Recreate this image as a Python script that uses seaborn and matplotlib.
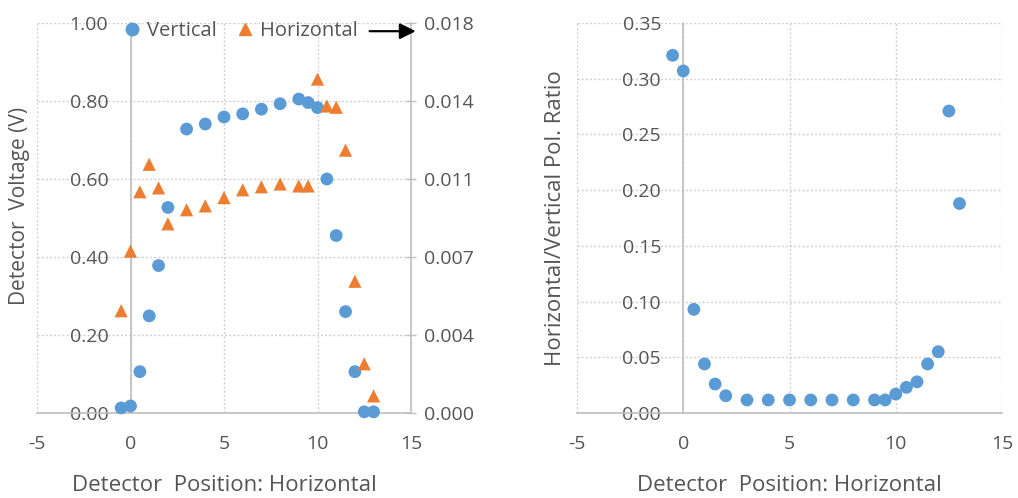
import numpy as np
import pandas as pd
import matplotlib
matplotlib.use("Agg")
import matplotlib.pyplot as plt
from matplotlib.lines import Line2D
import seaborn as sns

# Detector positions (horizontal scan)
position = [-0.5, 0, 0.5, 1, 1.5, 2, 3, 4, 5, 6, 7, 8, 9, 9.5, 10, 10.5, 11, 11.5, 12, 12.5, 13]

# Detector voltage, vertical polarisation (V, primary axis)
vertical_v = [0.013, 0.018, 0.106, 0.249, 0.378, 0.527, 0.728, 0.741, 0.759, 0.767, 0.779,
              0.793, 0.805, 0.796, 0.783, 0.600, 0.455, 0.260, 0.106, 0.003, 0.003]

# Detector voltage, horizontal polarisation (V, secondary axis)
horizontal_v = [0.00472, 0.00747, 0.01021, 0.01148, 0.01039, 0.00873, 0.00938, 0.00956,
                0.00994, 0.01030, 0.01044, 0.01057, 0.01048, 0.01048, 0.01541, 0.01417,
                0.01411, 0.01213, 0.00608, 0.00227, 0.00079]

# Horizontal / vertical polarisation ratio
pol_ratio = [0.321, 0.307, 0.093, 0.044, 0.026, 0.0155, 0.0117, 0.0117, 0.0117, 0.0117,
             0.0117, 0.0117, 0.0117, 0.0117, 0.017, 0.023, 0.028, 0.044, 0.055, 0.271, 0.188]

x_ticks = [-5, 0, 5, 10, 15]
v_ticks = [0.0, 0.2, 0.4, 0.6, 0.8, 1.0]
h_ticks = [0.0, 0.0036, 0.0072, 0.0108, 0.0144, 0.018]
r_ticks = [0.0, 0.05, 0.10, 0.15, 0.20, 0.25, 0.30, 0.35]

df = pd.DataFrame({"pos": position, "vert": vertical_v, "horiz": horizontal_v, "ratio": pol_ratio})

sns.set_theme(style="white")
plt.rcParams["font.family"] = ["Open Sans", "DejaVu Sans"]

BLUE = "#5B9BD5"
ORANGE = "#ED7D31"
TEXT = "#555555"
GRID = "#D0D0D0"
AXIS = "#BFBFBF"
FS = 14
LFS = 16

fig = plt.figure(figsize=(10.18, 4.98), dpi=100)
W, H = 1018, 498
ax1 = fig.add_axes([37 / W, 85 / H, 374 / W, 390 / H])
ax2 = fig.add_axes([577 / W, 85 / H, 425 / W, 390 / H])


def style_axes(ax, yticks, yfmt, ylim):
    ax.set_xlim(-5, 15)
    ax.set_ylim(*ylim)
    ax.set_xticks(x_ticks)
    ax.set_yticks(yticks)
    ax.set_xticklabels([str(t) for t in x_ticks])
    ax.set_yticklabels([yfmt.format(t) for t in yticks])
    ax.grid(True, color=GRID, linestyle=(0, (1.5, 1.5)), linewidth=1.0)
    for side in ("top", "right"):
        ax.spines[side].set_visible(False)
    ax.spines["left"].set_position(("data", 0))
    ax.spines["left"].set_color(AXIS)
    ax.spines["left"].set_linewidth(1.2)
    ax.spines["bottom"].set_color(AXIS)
    ax.spines["bottom"].set_linewidth(1.2)
    ax.tick_params(axis="both", length=0, labelsize=FS, labelcolor=TEXT)
    ax.tick_params(axis="x", pad=16)
    ax.tick_params(axis="y", pad=16)
    ax.set_xlabel("Detector  Position: Horizontal", fontsize=LFS, color=TEXT)
    ax.xaxis.set_label_coords(0.5, -0.16)


# Left panel: detector voltages
style_axes(ax1, v_ticks, "{:.2f}", (0, 1.0))
sns.scatterplot(data=df, x="pos", y="vert", ax=ax1, color=BLUE, marker="o", s=85,
                edgecolor="none", clip_on=False, zorder=3)
ax1.set_ylabel("Detector  Voltage (V)", fontsize=15, color=TEXT)
ax1.yaxis.set_label_coords(-0.02, 0.53)
ax1.set_xlabel("Detector  Position: Horizontal", fontsize=LFS, color=TEXT)

ax1b = ax1.twinx()
sns.scatterplot(data=df, x="pos", y="horiz", ax=ax1b, color=ORANGE, marker="^", s=90,
                edgecolor="none", clip_on=False, zorder=3)
ax1b.set_ylim(0, 0.018)
ax1b.set_yticks(h_ticks)
ax1b.set_yticklabels(["{:.3f}".format(t) for t in h_ticks])
ax1b.set_ylabel("")
for side in ("top", "left", "bottom"):
    ax1b.spines[side].set_visible(False)
ax1b.spines["right"].set_color(AXIS)
ax1b.spines["right"].set_linewidth(1.2)
ax1b.tick_params(axis="y", direction="inout", length=7, width=1.0, color=AXIS,
                 labelsize=FS, labelcolor=TEXT, pad=6)
ax1b.set_xlim(-5, 15)

handles = [
    Line2D([], [], linestyle="none", marker="o", markersize=9, color=BLUE),
    Line2D([], [], linestyle="none", marker="^", markersize=9, color=ORANGE),
]
leg = ax1b.legend(handles, ["Vertical", "Horizontal"], ncol=2, frameon=False,
                  loc="center left", bbox_to_anchor=(0.232, 0.979), borderpad=0,
                  borderaxespad=0, handlelength=0.8, handletextpad=0.35,
                  columnspacing=1.0, fontsize=14.5)
for t in leg.get_texts():
    t.set_color(TEXT)
ax1b.annotate("", xy=(1.02, 0.979), xytext=(0.882, 0.979), xycoords="axes fraction",
              arrowprops=dict(arrowstyle="-|>", color="black", lw=1.6, mutation_scale=24),
              annotation_clip=False)

# Right panel: polarisation ratio
style_axes(ax2, r_ticks, "{:.2f}", (0, 0.35))
sns.scatterplot(data=df, x="pos", y="ratio", ax=ax2, color=BLUE, marker="o", s=85,
                edgecolor="none", clip_on=False, zorder=3)
ax2.set_ylabel("Horizontal/Vertical Pol. Ratio", fontsize=LFS, color=TEXT)
ax2.yaxis.set_label_coords(-0.025, 0.5)
ax2.set_xlabel("Detector  Position: Horizontal", fontsize=LFS, color=TEXT)
ax2.xaxis.set_label_coords(0.5, -0.16)

fig.savefig("out.png", dpi=100)
